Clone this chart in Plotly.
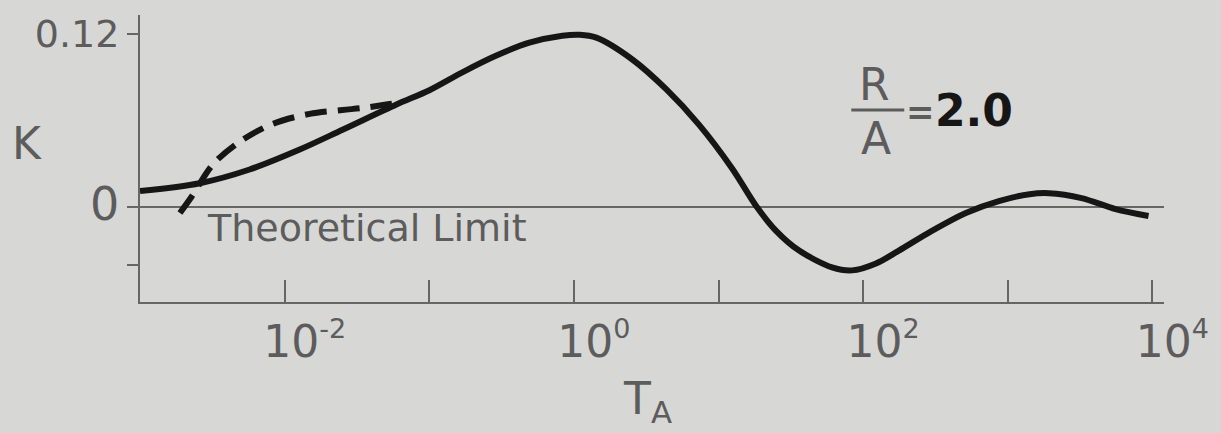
import plotly.graph_objects as go

# ---- data (T_A on log scale, K linear) ----
solid_T = [0.001, 0.002588, 0.005728, 0.01271, 0.02512, 0.05929, 0.1002, 0.1694,
           0.2911, 0.4920, 0.8318, 1.096, 1.429, 2.535, 4.345, 7.345, 12.42, 18.20,
           25.00, 36.06, 60.95, 83.95, 122.7, 176.6, 298.5, 512.9, 867.0, 1413,
           1919, 3236, 5559, 9397]
solid_K = [0.0110, 0.0165, 0.0260, 0.0398, 0.0535, 0.0710, 0.0809, 0.0933,
           0.1049, 0.1138, 0.1186, 0.1193, 0.1173, 0.1022, 0.0816, 0.0569, 0.0267,
           0.0007, -0.0165, -0.0302, -0.0418, -0.0439, -0.0391, -0.0302, -0.0165,
           -0.0041, 0.0041, 0.0089, 0.0096, 0.0062, -0.0014, -0.0062]

dash_T = [0.001888, 0.002286, 0.003192, 0.004898, 0.008279, 0.01489, 0.02512,
          0.03459, 0.05309, 0.06457]
dash_K = [-0.0041, 0.0075, 0.0295, 0.0453, 0.0576, 0.0645, 0.0672, 0.0686,
          0.0713, 0.0727]

x_tickvals = [1e-2, 1e0, 1e2, 1e4]
x_ticktext = ["10<sup><span style='font-size:27px'>-2</span></sup>",
              "10<sup><span style='font-size:27px'>0</span></sup>",
              "10<sup><span style='font-size:27px'>2</span></sup>",
              "10<sup><span style='font-size:27px'>4</span></sup>"]
x_minor_tickvals = [1e-1, 1e1, 1e3]
y_tickvals = [0.12, 0.0]
y_ticktext = ["0.12", "<span style='font-size:46px'>0</span>"]
y_minor_tickvals = [-0.04]

BG = "#d7d7d5"
GREY = "#5c5c5c"
AXIS = "#666666"
INK = "#161616"
FONT = "DejaVu Sans"

fig = go.Figure()
fig.add_trace(go.Scatter(x=solid_T, y=solid_K, mode="lines",
                         line=dict(color=INK, width=6, shape="spline", smoothing=0.9),
                         showlegend=False, hoverinfo="skip"))
fig.add_trace(go.Scatter(x=dash_T, y=dash_K, mode="lines",
                         line=dict(color=INK, width=6, shape="spline", smoothing=0.9,
                                   dash="22px,11px"),
                         showlegend=False, hoverinfo="skip"))

fig.update_layout(
    width=1221, height=433, autosize=False,
    margin=dict(l=140, r=56, t=12, b=131, pad=0),
    paper_bgcolor=BG, plot_bgcolor=BG,
    font=dict(family=FONT, color=GREY),
    xaxis=dict(type="log", range=[-3, 4.08], showgrid=False, zeroline=False,
               showline=True, linecolor=AXIS, linewidth=2,
               ticks="inside", ticklen=22, tickwidth=2, tickcolor=AXIS,
               tickmode="array", tickvals=x_tickvals, ticktext=x_ticktext,
               tickfont=dict(family=FONT, size=44, color=GREY),
               ticklabelshift=20,
               minor=dict(tickmode="array", tickvals=x_minor_tickvals, ticks="inside",
                          ticklen=22, tickwidth=2, tickcolor=AXIS, showgrid=False)),
    yaxis=dict(range=[-0.0658, 0.133], showgrid=False,
               zeroline=True, zerolinecolor=AXIS, zerolinewidth=2,
               showline=True, linecolor=AXIS, linewidth=2,
               ticks="outside", ticklen=11, tickwidth=2, tickcolor=AXIS,
               tickmode="array", tickvals=y_tickvals, ticktext=y_ticktext,
               tickfont=dict(family=FONT, size=38, color=GREY),
               minor=dict(tickmode="array", tickvals=y_minor_tickvals, ticks="outside",
                          ticklen=11, tickwidth=2, tickcolor=AXIS, showgrid=False)),
    yaxis2=dict(range=[-0.0658, 0.133], overlaying="y", side="left",
                showgrid=False, zeroline=False, showline=False,
                ticks="inside", ticklen=5, tickwidth=2, tickcolor=AXIS,
                tickmode="array", tickvals=y_tickvals + y_minor_tickvals,
                showticklabels=False),
)

P = dict(xref="paper", yref="paper", showarrow=False)
fig.add_annotation(text="Theoretical Limit", x=(205 - 140) / 1025, y=(302 - 227) / 290,
                   xanchor="left", yanchor="middle",
                   font=dict(family=FONT, size=38, color=GREY), **P)
fig.add_annotation(text="K", x=(27 - 140) / 1025, y=(302 - 142) / 290,
                   xanchor="center", yanchor="middle",
                   font=dict(family=FONT, size=44, color=GREY), **P)
fig.add_annotation(text="T<sub>A</sub>", x=(648 - 140) / 1025, y=(302 - 403) / 290,
                   xanchor="center", yanchor="middle",
                   font=dict(family=FONT, size=44, color=GREY), **P)
fig.add_annotation(text="R", x=(875 - 140) / 1025, y=(302 - 82) / 290,
                   xanchor="center", yanchor="middle",
                   font=dict(family=FONT, size=44, color=GREY), **P)
fig.add_annotation(text="A", x=(877 - 140) / 1025, y=(302 - 137) / 290,
                   xanchor="center", yanchor="middle",
                   font=dict(family=FONT, size=44, color=GREY), **P)
fig.add_annotation(text="=", x=(921 - 140) / 1025, y=(302 - 110) / 290,
                   xanchor="center", yanchor="middle",
                   font=dict(family=FONT, size=34, color=GREY, weight="bold"), **P)
fig.add_annotation(text="2.0", x=(934 - 140) / 1025, y=(302 - 108) / 290,
                   xanchor="left", yanchor="middle",
                   font=dict(family=FONT, size=44, color=INK, weight="bold"), **P)
fig.add_shape(type="line", xref="paper", yref="paper",
              x0=(852 - 140) / 1025, x1=(905 - 140) / 1025,
              y0=(302 - 108) / 290, y1=(302 - 108) / 290,
              line=dict(color=GREY, width=3))

fig.write_html("out.html")
